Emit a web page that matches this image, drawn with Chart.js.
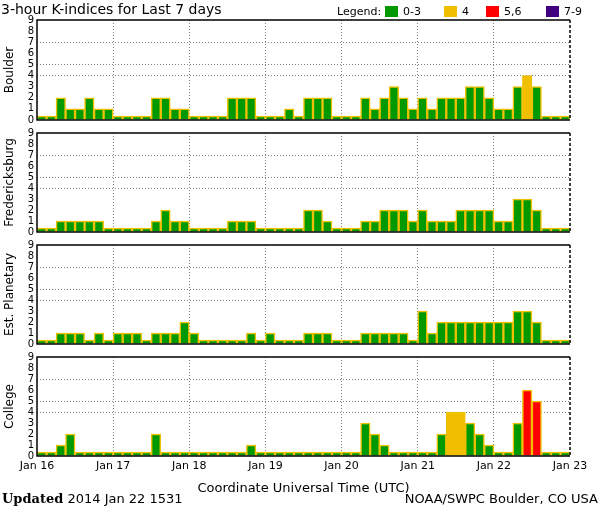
<!DOCTYPE html>
<html>
<head>
<meta charset="utf-8">
<script src="https://cdn.jsdelivr.net/npm/chart.js@4.4.1/dist/chart.umd.min.js"></script>
<style>
  body { margin: 0; background: #fff; width: 600px; height: 510px; position: relative; overflow: hidden; font-family: "DejaVu Sans", sans-serif; }
  canvas { position: absolute; left: 0; }
  .txt { position: absolute; white-space: nowrap; color: #000; z-index: 2; line-height: 1; }
  .sw { position: absolute; top: 6px; width: 13px; height: 11px; z-index: 2; }
</style>
</head>
<body>
<div class="txt" style="left:1px;top:2px;font-size:14px">3-hour K-indices for Last 7 days</div>
<div class="txt" style="left:337px;top:6px;font-size:11px">Legend:</div>
<div class="sw" style="left:385px;background:#009900"></div>
<div class="txt" style="left:403px;top:6px;font-size:11px">0-3</div>
<div class="sw" style="left:444px;background:#f0c000"></div>
<div class="txt" style="left:462px;top:6px;font-size:11px">4</div>
<div class="sw" style="left:486px;background:#ff0000"></div>
<div class="txt" style="left:504px;top:6px;font-size:11px">5,6</div>
<div class="sw" style="left:546px;background:#400080"></div>
<div class="txt" style="left:564px;top:6px;font-size:11px">7-9</div>
<div class="txt" style="left:2px;top:492px;font-size:13px"><b style="font-family:'DejaVu Serif',serif">Updated</b> 2014 Jan 22 1531</div>
<div class="txt" style="right:2px;top:492px;font-size:13px">NOAA/SWPC Boulder, CO USA</div>

<canvas id="p0"></canvas>
<canvas id="p1"></canvas>
<canvas id="p2"></canvas>
<canvas id="p3"></canvas>

<script>
// 3-hour K-index values, 8 per day, Jan 16 00Z .. Jan 22 21Z
const BOULDER = [0,0,2,1,1,2,1,1, 0,0,0,0,2,2,1,1, 0,0,0,0,2,2,2,0, 0,0,1,0,2,2,2,0,
                 0,0,2,1,2,3,2,1, 2,1,2,2,2,3,3,2, 1,1,3,4,3,0,0,0]
const FREDERICKSBURG = [0,0,1,1,1,1,1,0, 0,0,0,0,1,2,1,1, 0,0,0,0,1,1,1,0, 0,0,0,0,2,2,1,0,
                        0,0,1,1,2,2,2,1, 2,1,1,1,2,2,2,2, 1,1,3,3,2,0,0,0]
const PLANETARY = [0,0,1,1,1,0,1,0, 1,1,1,0,1,1,1,2, 1,0,0,0,0,0,1,0, 1,0,0,0,1,1,1,0,
                   0,0,1,1,1,1,1,0, 3,1,2,2,2,2,2,2, 2,2,3,3,2,0,0,0]
const COLLEGE = [0,0,1,2,0,0,0,0, 0,0,0,0,2,0,0,0, 0,0,0,0,0,0,1,0, 0,0,0,0,0,0,0,0,
                 0,0,3,2,1,0,0,0, 0,0,2,4,4,3,2,1, 0,0,3,6,5,0,0,0]

const STATIONS = ['Boulder', 'Fredericksburg', 'Est. Planetary', 'College']
const SERIES = [BOULDER, FREDERICKSBURG, PLANETARY, COLLEGE]
const DAY_LABELS = ['Jan 16', 'Jan 17', 'Jan 18', 'Jan 19', 'Jan 20', 'Jan 21', 'Jan 22', 'Jan 23']
const K_TICKS = [0, 1, 2, 3, 4, 5, 6, 7, 8, 9]
const K_GRID = [4, 5, 7]

// layout of the four panels (page pixels)
const PANEL_TOP = [19, 132, 244, 356]
const PANEL_BOTTOM = [121, 233, 345, 456]
const PAD = 8
const AXIS_W = 37
const RIGHT_PAD = 30
const XAXIS_H = 40

const GREEN = '#009900', YELLOW = '#f0c000', RED = '#ff0000', PURPLE = '#400080'
const GRID = '#808080'

function kColor(v) {
  if (v >= 7) return PURPLE
  if (v >= 5) return RED
  if (v === 4) return YELLOW
  return GREEN
}

// black frame around each plot, right edge dashed
const framePlugin = {
  id: 'frame',
  afterDatasetsDraw(chart) {
    const { ctx, chartArea: a } = chart
    ctx.save()
    ctx.strokeStyle = '#000'
    ctx.lineWidth = 1.5
    ctx.beginPath()
    ctx.moveTo(a.right, a.top)
    ctx.lineTo(a.left, a.top)
    ctx.lineTo(a.left, a.bottom)
    ctx.lineTo(a.right, a.bottom)
    ctx.stroke()
    ctx.setLineDash([3, 2])
    ctx.beginPath()
    ctx.moveTo(a.right, a.top)
    ctx.lineTo(a.right, a.bottom)
    ctx.stroke()
    ctx.restore()
  }
}

const nSlots = DAY_LABELS.length - 1
const perDay = BOULDER.length / nSlots

SERIES.forEach((values, k) => {
  const last = k === SERIES.length - 1
  const canvas = document.getElementById('p' + k)
  const top = PANEL_TOP[k] - PAD
  const height = PANEL_BOTTOM[k] - PANEL_TOP[k] + PAD + (last ? XAXIS_H + 4 : PAD)
  canvas.style.top = top + 'px'
  canvas.style.width = '600px'
  canvas.style.height = height + 'px'

  new Chart(canvas, {
    type: 'bar',
    data: {
      datasets: [{
        data: values.map((v, i) => ({ x: i + 0.5, y: v })),
        backgroundColor: values.map(kColor),
        borderColor: YELLOW,
        borderWidth: 1.5,
        minBarLength: 4,
        categoryPercentage: 1,
        barPercentage: 1
      }]
    },
    options: {
      responsive: false,
      maintainAspectRatio: false,
      animation: false,
      devicePixelRatio: 1,
      layout: { padding: { top: PAD, bottom: last ? 4 : PAD, left: 0, right: RIGHT_PAD } },
      plugins: { legend: { display: false }, tooltip: { enabled: false } },
      scales: {
        x: {
          type: 'linear',
          min: 0,
          max: values.length,
          offset: false,
          afterBuildTicks: s => { s.ticks = DAY_LABELS.map((_, d) => ({ value: d * perDay })) },
          afterFit: s => { s.height = last ? XAXIS_H : 0 },
          ticks: {
            display: last,
            autoSkip: false,
            maxRotation: 0,
            padding: 4,
            color: '#000',
            font: { family: 'DejaVu Sans', size: 11 },
            callback: (v, i) => DAY_LABELS[i]
          },
          grid: {
            offset: false,
            drawTicks: false,
            lineWidth: 1,
            color: c => (c.tick && c.tick.value > 0 && c.tick.value < values.length) ? GRID : 'transparent'
          },
          border: { display: false, dash: [1, 2] },
          title: {
            display: last,
            text: 'Coordinate Universal Time (UTC)',
            color: '#000',
            font: { family: 'DejaVu Sans', size: 13 },
            padding: { top: 2, bottom: 0 }
          }
        },
        y: {
          min: 0,
          max: 9,
          afterBuildTicks: s => { s.ticks = K_TICKS.map(v => ({ value: v })) },
          afterFit: s => { s.width = AXIS_W },
          ticks: {
            autoSkip: false,
            padding: 3,
            color: '#000',
            font: { family: 'DejaVu Sans', size: 10 }
          },
          grid: {
            drawTicks: false,
            lineWidth: 1,
            color: c => (c.tick && K_GRID.includes(c.tick.value)) ? GRID : 'transparent'
          },
          border: { display: false, dash: [1, 2] },
          title: {
            display: true,
            text: STATIONS[k],
            color: '#000',
            font: { family: 'DejaVu Sans', size: 12 },
            padding: { top: 3, bottom: 2 }
          }
        }
      }
    },
    plugins: [framePlugin]
  })
})
</script>
</body>
</html>
